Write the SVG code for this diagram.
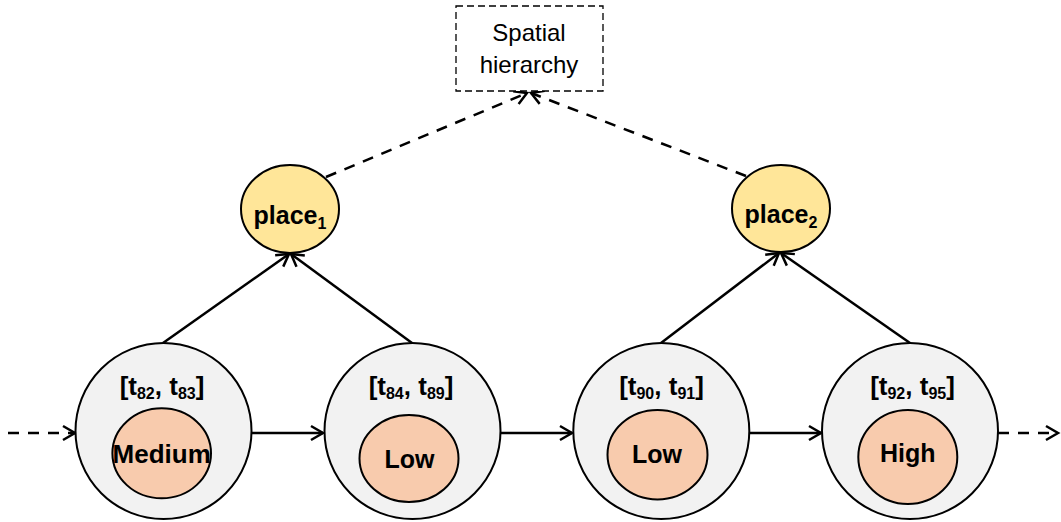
<svg xmlns="http://www.w3.org/2000/svg" width="1061" height="522" viewBox="0 0 1061 522">
<style>
  .big { fill: #f2f2f2; stroke: #000; stroke-width: 2; }
  .inner { fill: #f8cbad; stroke: #000; stroke-width: 2; }
  .place { fill: #ffe699; stroke: #000; stroke-width: 2; }
  .box { fill: #fff; stroke: #000; stroke-width: 1.3; stroke-dasharray: 7 4; }
  .lbl { font-family: "Liberation Sans", Arial, sans-serif; font-weight: bold; fill: #000; text-anchor: middle; }
  .plain { font-family: "Liberation Sans", Arial, sans-serif; font-size: 24px; fill: #000; text-anchor: middle; }
  .conn { fill: none; stroke: #000; stroke-width: 2.5; }
  .dash { stroke-dasharray: 11 9; }
</style>
<defs>
  <marker id="arr" markerUnits="userSpaceOnUse" markerWidth="18" markerHeight="18" refX="14" refY="9" orient="auto">
    <path d="M2,2 L14,9 L2,16" fill="none" stroke="#000" stroke-width="2.5" stroke-dasharray="none"/>
  </marker>
</defs>

<g id="connectors">
  <line class="conn dash" x1="8" y1="433" x2="75" y2="433" marker-end="url(#arr)"/>
  <line class="conn" x1="251" y1="433" x2="323" y2="433" marker-end="url(#arr)"/>
  <line class="conn" x1="500" y1="433" x2="572" y2="433" marker-end="url(#arr)"/>
  <line class="conn" x1="749" y1="433" x2="821" y2="433" marker-end="url(#arr)"/>
  <line class="conn dash" x1="998" y1="433" x2="1058" y2="433" marker-end="url(#arr)"/>
  <line class="conn" x1="163" y1="343" x2="289" y2="254" marker-end="url(#arr)"/>
  <line class="conn" x1="412" y1="343" x2="291" y2="254" marker-end="url(#arr)"/>
  <line class="conn" x1="661" y1="343" x2="779" y2="253" marker-end="url(#arr)"/>
  <line class="conn" x1="910" y1="343" x2="781" y2="253" marker-end="url(#arr)"/>
  <line class="conn dash" x1="326" y1="177" x2="527" y2="93" marker-end="url(#arr)"/>
  <line class="conn dash" x1="746" y1="176" x2="531" y2="93" marker-end="url(#arr)"/>
</g>

<g id="spatial-hierarchy">
  <rect class="box" x="456" y="6" width="147" height="85"/>
  <text class="plain" x="529" y="41">Spatial</text>
  <text class="plain" x="529" y="73">hierarchy</text>
</g>

<g id="place1">
  <ellipse class="place" cx="290" cy="209" rx="49" ry="44"/>
  <text class="lbl" x="290" y="224" font-size="25">place<tspan font-size="16" dy="5">1</tspan></text>
</g>
<g id="place2">
  <ellipse class="place" cx="781" cy="208.5" rx="49" ry="43.5"/>
  <text class="lbl" x="781" y="223" font-size="25">place<tspan font-size="16" dy="5">2</tspan></text>
</g>

<g id="state1">
  <circle class="big" cx="163.5" cy="431" r="88"/>
  <text class="lbl" x="162" y="395" font-size="26">[t<tspan font-size="16" dy="4">82</tspan><tspan dy="-4">, t</tspan><tspan font-size="16" dy="4">83</tspan><tspan dy="-4">]</tspan></text>
  <ellipse class="inner" cx="161.7" cy="453.3" rx="49.3" ry="45"/>
  <text class="lbl" x="161.7" y="462.5" font-size="26">Medium</text>
</g>
<g id="state2">
  <circle class="big" cx="412.5" cy="431" r="88"/>
  <text class="lbl" x="411" y="395" font-size="26">[t<tspan font-size="16" dy="4">84</tspan><tspan dy="-4">, t</tspan><tspan font-size="16" dy="4">89</tspan><tspan dy="-4">]</tspan></text>
  <ellipse class="inner" cx="409" cy="458.5" rx="49.5" ry="43.5"/>
  <text class="lbl" x="409.5" y="467.5" font-size="25">Low</text>
</g>
<g id="state3">
  <circle class="big" cx="661.3" cy="431" r="88"/>
  <text class="lbl" x="661.5" y="395" font-size="26">[t<tspan font-size="16" dy="4">90</tspan><tspan dy="-4">, t</tspan><tspan font-size="16" dy="4">91</tspan><tspan dy="-4">]</tspan></text>
  <ellipse class="inner" cx="657.5" cy="454.7" rx="50" ry="44.7"/>
  <text class="lbl" x="657" y="463.3" font-size="25">Low</text>
</g>
<g id="state4">
  <circle class="big" cx="910" cy="431" r="88"/>
  <text class="lbl" x="912.5" y="395" font-size="26">[t<tspan font-size="16" dy="4">92</tspan><tspan dy="-4">, t</tspan><tspan font-size="16" dy="4">95</tspan><tspan dy="-4">]</tspan></text>
  <ellipse class="inner" cx="907.8" cy="457" rx="49.5" ry="47"/>
  <text class="lbl" x="907.8" y="461.5" font-size="25">High</text>
</g>
</svg>
